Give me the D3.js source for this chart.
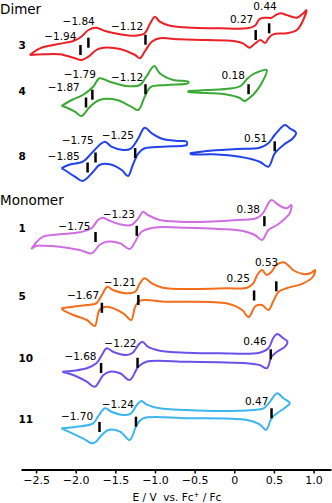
<!DOCTYPE html>
<html>
<head>
<meta charset="utf-8">
<script src="https://cdn.jsdelivr.net/npm/d3@7.9.0/dist/d3.min.js"></script>
<style>
  html, body { margin: 0; padding: 0; background: #fff; }
  svg { display: block; font-family: "DejaVu Sans", sans-serif; }
</style>
</head>
<body>
<svg id="cv" width="332" height="503"></svg>
<script>
// compound names, top to bottom
const compounds = ['3', '4', '8', '1', '5', '10', '11'];

// CV loops: [E (V vs Fc+/Fc), current (a.u., anodic up)], upper sweep then lower sweep
const cv3 = [[-2.58,-15],[-2.45,-8.3],[-2.24,-4.3],[-2.03,-1],[-1.93,3.3],[-1.84,10],[-1.74,12.3],[-1.63,9],[-1.44,5.7],[-1.25,4.3],[-1.13,6.7],[-1.06,16.7],[-1.00,23.3],[-0.94,18.3],[-0.81,14.3],[-0.52,12.3],[-0.18,11.7],[0.16,11.7],[0.26,14.3],[0.32,21],[0.39,22.3],[0.47,22.3],[0.54,25.7],[0.59,26.7],[0.66,25],[0.79,22.3],[0.87,26.7],[0.91,30],
  [0.87,20],[0.79,10],[0.66,6.7],[0.49,5.7],[0.43,1.5],[0.39,-3],[0.33,0],[0.25,-4.3],[0.19,-7.7],[0.11,-3.3],[-0.01,-1],[-0.35,0],[-0.69,0.7],[-0.94,1.7],[-1.04,-1.7],[-1.13,-11.7],[-1.19,-18.3],[-1.25,-15],[-1.44,-9],[-1.65,-7.7],[-1.74,-10],[-1.84,-16.7],[-1.93,-20],[-2.01,-18.3],[-2.20,-14.3],[-2.41,-14.3]];
const cv4a = [[-2.18,-11],[-2.05,-5],[-1.91,0],[-1.78,8.3],[-1.70,16.7],[-1.57,13.3],[-1.36,9],[-1.19,10],[-1.11,18.3],[-1.01,29],[-0.94,21.7],[-0.77,15],[-0.58,13.3],
  [-0.58,11.7],[-0.85,10],[-1.06,7.7],[-1.13,-1.7],[-1.21,-15],[-1.30,-11.7],[-1.48,-5],[-1.70,-5],[-1.82,-11.7],[-1.93,-21],[-2.01,-16.7],[-2.14,-11.7]];
const cv4b = [[-0.58,4],[-0.35,5],[-0.05,6.5],[0.08,9],[0.15,15],[0.22,20],[0.30,23],[0.41,25],
  [0.36,14],[0.27,3],[0.19,-3],[0.13,-6],[0.07,-3],[-0.10,0.5],[-0.35,2],[-0.58,3.3]];
const cv8a = [[-2.18,-13.3],[-2.09,-10],[-1.91,-6.7],[-1.80,1.7],[-1.70,10],[-1.63,13.3],[-1.55,8.3],[-1.40,5],[-1.30,6.7],[-1.21,16.7],[-1.13,27.3],[-1.04,21.7],[-0.90,16],[-0.69,14],[-0.60,13.3],
  [-0.60,10],[-0.64,9.3],[-0.90,8.3],[-1.13,6.7],[-1.21,1.7],[-1.28,-10],[-1.34,-21],[-1.42,-15],[-1.57,-9.3],[-1.70,-10],[-1.78,-16.7],[-1.91,-26],[-2.01,-21.7],[-2.14,-15]];
const cv8b = [[-0.56,1.7],[-0.35,4],[0.03,6],[0.32,7.3],[0.43,11.7],[0.51,20],[0.64,30],[0.70,26.7],[0.77,23.3],[0.78,21.7],
  [0.74,16.7],[0.62,10],[0.51,1.7],[0.43,-11.7],[0.32,-6.7],[0.07,-1.7],[-0.27,0.7],[-0.54,0.7]];
const cv1 = [[-2.56,-17],[-2.49,-9.7],[-2.41,-4.7],[-2.20,-2.3],[-1.95,-0.3],[-1.80,3.7],[-1.72,12],[-1.66,14.3],[-1.59,12],[-1.44,7.7],[-1.30,7],[-1.21,13.7],[-1.15,20.3],[-1.09,17],[-0.94,12],[-0.69,10.3],[-0.35,10.3],[0.03,12],[0.28,13.7],[0.36,18.7],[0.43,28.7],[0.47,32],[0.56,27],[0.66,23.7],[0.72,27],
  [0.70,18.7],[0.62,12],[0.54,7],[0.43,2],[0.35,-8],[0.26,-3],[0.11,1],[-0.18,3],[-0.60,4.3],[-1.02,4.3],[-1.17,0.3],[-1.25,-9.7],[-1.32,-17],[-1.44,-11.3],[-1.61,-9.7],[-1.70,-13],[-1.80,-21.3],[-1.95,-18],[-2.20,-14.7],[-2.41,-13.7],[-2.50,-14]];
const cv5 = [[-2.18,-10.3],[-2.03,-8.7],[-1.86,-7],[-1.74,-5.3],[-1.67,3],[-1.60,11.3],[-1.53,8],[-1.36,4.7],[-1.25,6.3],[-1.19,14.7],[-1.13,19.7],[-1.04,14.7],[-0.90,10.3],[-0.52,9],[-0.10,9.7],[0.16,10.3],[0.24,14.7],[0.29,23],[0.35,28],[0.41,23],[0.47,26.3],[0.53,33],[0.62,35.7],[0.70,31.3],[0.74,28],[0.87,24],[0.96,24.7],[1.02,28],
  [0.99,21],[0.87,14.7],[0.66,9.7],[0.56,6.3],[0.49,-3.7],[0.43,-12],[0.35,-7],[0.27,-8],[0.18,-19],[0.10,-12],[-0.10,-5.3],[-0.85,-3.7],[-1.19,-2.7],[-1.25,-8.7],[-1.30,-22],[-1.40,-15.3],[-1.61,-8.7],[-1.70,-12],[-1.76,-28],[-1.86,-22],[-2.03,-17],[-2.16,-12]];
const cv10 = [[-2.17,-9.7],[-2.03,-8.7],[-1.86,-6.3],[-1.74,-1.3],[-1.67,7],[-1.61,13.7],[-1.53,10.3],[-1.36,7],[-1.28,9.3],[-1.21,17],[-1.16,20.3],[-1.09,15.3],[-0.94,11.3],[-0.60,9.3],[-0.18,8.7],[0.32,9.3],[0.43,13.7],[0.49,23.7],[0.54,28],[0.62,23.7],[0.67,20.3],
  [0.64,15.3],[0.54,10.3],[0.47,5.3],[0.41,-6.3],[0.32,-3],[0.16,-1.3],[-0.60,0.3],[-1.11,0.3],[-1.21,-4.7],[-1.32,-18],[-1.44,-11.3],[-1.57,-9.7],[-1.65,-13],[-1.76,-24.7],[-1.86,-19.7],[-2.03,-13]];
const cv11 = [[-2.18,-8.3],[-1.99,-6.7],[-1.78,-3.3],[-1.72,3.3],[-1.63,11.7],[-1.55,8.3],[-1.40,5],[-1.30,6.7],[-1.23,15],[-1.17,19],[-1.11,15.7],[-0.94,11.7],[-0.60,10],[-0.18,9],[0.24,10],[0.37,11.7],[0.45,18.3],[0.54,26.7],[0.62,21.7],[0.70,16.7],
  [0.64,12.3],[0.54,6.7],[0.47,1.7],[0.40,-10],[0.32,-4.3],[0.16,0],[-0.60,1.7],[-1.15,1.7],[-1.23,-5],[-1.32,-20],[-1.44,-11.7],[-1.59,-10],[-1.67,-15],[-1.78,-23.3],[-1.91,-18.3],[-2.09,-11.7]];
const loops = [[cv3], [cv4a, cv4b], [cv8a, cv8b], [cv1], [cv5], [cv10], [cv11]];

// half-wave potentials and the current level where each marker sits
const halfWaves = [
  [-1.94, -1.84, -1.12, 0.27, 0.44],
  [-1.87, -1.79, -1.12, 0.18],
  [-1.85, -1.75, -1.25, 0.51],
  [-1.75, -1.23, 0.38],
  [-1.67, -1.21, 0.25, 0.53],
  [-1.68, -1.22, 0.46],
  [-1.70, -1.24, 0.47]
];
const markerCurrents = [
  [-10, -2.7, 0.3, 5, 11.7],
  [-7.5, 0.3, 5.8, 5.8],
  [-12.5, -2.5, 2, 8.7],
  [-5, 1.2, 10.8],
  [-9.8, -2, 2.5, 11.7],
  [-6, -0.8, 7.7],
  [-7, -1.7, 6.7]
];
const xTicks = [-2.5, -2.0, -1.5, -1.0, -0.5, 0, 0.5, 1.0];

// layout
const colors = ['#ec2027', '#3aa935', '#2342ec', '#cf6ee0', '#f46d1b', '#6a52ea', '#3cb6ee'];
const rowY = [40, 95, 155, 232, 298, 362, 420];
const nameY = [45, 91.7, 156.7, 228, 296.7, 358, 419];
// label offset from marker top: [dx to label right end, dy to label middle]
const labelNudge = [
  [[-4, -8.3], [6.4, -16.7], [-2.3, -8.3], [-2.4, -11], [7.6, -17.3]],
  [[-6.2, -10.2], [3.5, -15.7], [-2.3, -6.9], [-3.6, -9.2]],
  [[-7.8, -5.8], [-1.7, -12.5], [-1.3, -12.3], [-7.4, -3]],
  [[-5, -6], [-1.9, -11.5], [-4.4, -7.2]],
  [[-2.7, -7.1], [-2.5, -12.7], [-4.1, -12.2], [2, -19]],
  [[-4.5, -7], [-1, -14.5], [-4, -7.6]],
  [[-6.4, -5.3], [-2.1, -12.4], [-3.2, -7.3]]
];

const svg = d3.select('#cv');
const x = d3.scaleLinear().domain([-2.69, 1.22]).range([21, 331]);
const y = d3.scaleLinear().domain([0, 10]).range([0, -10]);
const fmt1 = d3.format('.1f');
const fmt2 = d3.format('.2f');

const line = d3.line()
  .x(d => x(d[0]))
  .y(d => y(d[1]))
  .curve(d3.curveCatmullRom.alpha(0.5));

svg.append('text').attr('x', 0).attr('y', 13.5)
  .attr('font-size', 13.5).text('Dimer');
svg.append('text').attr('x', 0).attr('y', 205)
  .attr('font-size', 13.5).text('Monomer');

compounds.forEach((name, k) => {
  svg.append('text')
    .attr('x', 18.5).attr('y', nameY[k]).attr('dy', '0.35em')
    .attr('font-size', 10.5).attr('font-weight', 'bold')
    .text(name);

  const g = svg.append('g').attr('transform', `translate(0,${rowY[k]})`);

  loops[k].forEach(pts => {
    g.append('path')
      .attr('d', line(pts.concat([pts[0]])))
      .attr('fill', 'none')
      .attr('stroke', colors[k])
      .attr('stroke-width', 2)
      .attr('stroke-linejoin', 'round');
  });

  halfWaves[k].forEach((e, j) => {
    const cx = x(e), cy = y(markerCurrents[k][j]);
    g.append('line')
      .attr('x1', cx).attr('x2', cx)
      .attr('y1', cy - 5).attr('y2', cy + 5)
      .attr('stroke', '#000').attr('stroke-width', 2.5);
    const [dx, dy] = labelNudge[k][j];
    g.append('text')
      .attr('x', cx + dx).attr('y', cy - 5 + dy).attr('dy', '0.35em')
      .attr('text-anchor', 'end').attr('font-size', 10.5)
      .text(fmt2(e));
  });
});

const axis = d3.axisBottom(x)
  .tickValues(xTicks)
  .tickSize(4)
  .tickSizeOuter(0)
  .tickPadding(3)
  .tickFormat(d => d === 0 ? '0' : fmt1(d));

const ax = svg.append('g').attr('transform', 'translate(0,469.5)').call(axis);
ax.select('.domain').attr('stroke-width', 2);
ax.selectAll('.tick line').attr('stroke-width', 1.5);
ax.selectAll('.tick text').attr('font-size', 11).attr('font-family', '"DejaVu Sans", sans-serif');

const title = svg.append('text')
  .attr('x', 177).attr('y', 501)
  .attr('text-anchor', 'middle').attr('font-size', 10.5)
  .attr('xml:space', 'preserve');
title.append('tspan').text('E / V  vs. Fc');
title.append('tspan').attr('dy', -4).attr('font-size', 7).text('+');
title.append('tspan').attr('dy', 4).text(' / Fc');
</script>
</body>
</html>
